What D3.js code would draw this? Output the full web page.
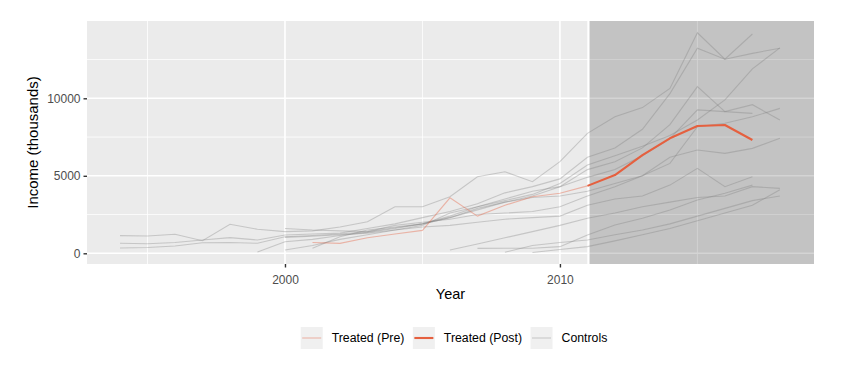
<!DOCTYPE html>
<html>
<head>
<meta charset="utf-8">
<script src="https://cdn.jsdelivr.net/npm/d3@7"></script>
<style>
  body { margin: 0; background: #ffffff; }
  text { font-family: "Liberation Sans", Arial, sans-serif; }
</style>
</head>
<body>
<svg id="chart" width="864" height="367"></svg>
<script>
// years on the x axis
const years = [1994, 1995, 1996, 1997, 1998, 1999, 2000, 2001, 2002, 2003, 2004, 2005, 2006,
  2007, 2008, 2009, 2010, 2011, 2012, 2013, 2014, 2015, 2016, 2017, 2018];

// treated unit (income, thousands)
const treated = [null, null, null, null, null, null, null, 700, 640, 1000, 1250, 1480, 3580,
  2400, 3100, 3650, 3870, 4350, 5050, 6340, 7420, 8210, 8280, 7310, null];

// control units
const ctrl01 = [1140, 1120, 1230, 810, 1870, 1550, 1400, 1450, 1700, 2040, 3000, 3000, 3650,
  4940, 5260, 4620, 5910, 7740, 8810, 9400, 10640, 14230, 12520, 14150, null];
const ctrl02 = [645, 620, 700, 860, 1010, 860, 1180, 1250, 1300, 1600, 1900, 2300, 2700,
  3200, 3900, 4300, 4800, 6200, 6800, 8000, 10300, 13230, 12520, 12900, 13230];
const ctrl03 = [340, 370, 470, 685, 700, 645, 1070, 1150, 1250, 1400, 1650, 1900, 2400,
  3000, 3400, 3800, 4500, 5700, 6300, 6900, 7600, 8600, 9900, 11900, 13250];
const ctrl04 = [null, null, null, null, null, 80, 750, 900, 1150, 1350, 1600, 1900, 2300,
  2800, 3300, 3700, 4300, 5400, 5900, 6800, 8300, 10750, 9140, 9590, 8600];
const ctrl05 = [null, null, null, null, null, null, 210, 500, 900, 1200, 1500, 1800, 2600,
  3000, 3500, 4000, 4300, 4900, 5400, 6300, 7400, 9250, 9140, 9030, null];
const ctrl06 = [null, null, null, null, null, null, null, 320, 1070, 1500, 1700, 1900, 2300,
  2900, 3300, 3600, 3700, 4000, 4500, 5000, 5800, 8170, 8390, 8810, 9350];
const ctrl07 = [null, null, null, null, null, null, 1600, 1500, 1450, 1400, 1800, 2000, 2200,
  2500, 2600, 2700, 3000, 3700, 4300, 5000, 6200, 6660, 6450, 6770, 7420];
const ctrl08 = [null, null, null, null, null, null, 1030, 1100, 1200, 1300, 1500, 1700, 1800,
  2000, 2200, 2300, 2400, 3100, 3500, 3700, 4400, 5480, 4300, 4940, null];
const ctrl09 = [null, null, null, null, null, null, null, null, null, null, null, null, 210,
  600, 1000, 1400, 1800, 2260, 2600, 3000, 3300, 3600, 3700, 4300, 4190];
const ctrl10 = [null, null, null, null, null, null, null, null, null, null, null, null, null,
  320, 330, 330, 430, 1180, 1830, 2260, 2790, 3440, 3870, 4400, null];
const ctrl11 = [null, null, null, null, null, null, null, null, null, null, null, null, null,
  null, 65, 500, 700, 860, 1200, 1500, 1900, 2400, 2900, 3400, 3700];
const ctrl12 = [null, null, null, null, null, null, null, null, null, null, null, null, null,
  null, null, 50, 250, 430, 800, 1200, 1600, 2100, 2600, 3100, 4100];
const controls = [ctrl01, ctrl02, ctrl03, ctrl04, ctrl05, ctrl06, ctrl07, ctrl08, ctrl09,
  ctrl10, ctrl11, ctrl12];

const treatYear = 2011;

// axis ticks
const yTicks = [0, 5000, 10000];
const yMinor = [2500, 7500, 12500];
const xTicks = [2000, 2010];
const xMinor = [1995, 2005, 2015];

const legendLabels = ["Treated (Pre)", "Treated (Post)", "Controls"];

const panel = {left: 87, right: 814, top: 21, bottom: 264};

let svg = d3.select("#chart");

let xScale = d3.scaleLinear()
  .domain([1992.8, 2019.24])
  .range([panel.left, panel.right]);

let yScale = d3.scaleLinear()
  .domain([-690, 14987])
  .range([panel.bottom, panel.top]);

// clip for the panel
svg.append("clipPath")
  .attr("id", "panel-clip")
  .append("rect")
  .attr("x", panel.left)
  .attr("y", panel.top)
  .attr("width", panel.right - panel.left)
  .attr("height", panel.bottom - panel.top);

// panel background
svg.append("rect")
  .attr("x", panel.left)
  .attr("y", panel.top)
  .attr("width", panel.right - panel.left)
  .attr("height", panel.bottom - panel.top)
  .attr("fill", "#ebebeb");

let grid = svg.append("g");

// minor grid
grid.selectAll("line.ymin")
  .data(yMinor)
  .enter()
  .append("line")
  .attr("x1", panel.left).attr("x2", panel.right)
  .attr("y1", d => yScale(d)).attr("y2", d => yScale(d))
  .attr("stroke", "#ffffff")
  .attr("stroke-width", 0.8);

grid.selectAll("line.xmin")
  .data(xMinor)
  .enter()
  .append("line")
  .attr("y1", panel.top).attr("y2", panel.bottom)
  .attr("x1", d => xScale(d)).attr("x2", d => xScale(d))
  .attr("stroke", "#ffffff")
  .attr("stroke-width", 0.8);

// major grid
grid.selectAll("line.ymaj")
  .data(yTicks)
  .enter()
  .append("line")
  .attr("x1", panel.left).attr("x2", panel.right)
  .attr("y1", d => yScale(d)).attr("y2", d => yScale(d))
  .attr("stroke", "#ffffff")
  .attr("stroke-width", 1.6);

grid.selectAll("line.xmaj")
  .data(xTicks)
  .enter()
  .append("line")
  .attr("y1", panel.top).attr("y2", panel.bottom)
  .attr("x1", d => xScale(d)).attr("x2", d => xScale(d))
  .attr("stroke", "#ffffff")
  .attr("stroke-width", 1.6);

// post-treatment shading
svg.append("rect")
  .attr("clip-path", "url(#panel-clip)")
  .attr("x", xScale(treatYear) + 1)
  .attr("y", panel.top - 5)
  .attr("width", panel.right - xScale(treatYear) + 5)
  .attr("height", panel.bottom - panel.top + 10)
  .attr("fill", "#000000")
  .attr("fill-opacity", 0.17)
  .attr("stroke", "#ffffff")
  .attr("stroke-width", 2.2);

let line = d3.line()
  .defined(d => d.v != null)
  .x(d => xScale(d.year))
  .y(d => yScale(d.v));

let toPoints = (vals) => years.map((year, i) => ({year: year, v: vals[i]}));

let plot = svg.append("g").attr("clip-path", "url(#panel-clip)");

// control lines
plot.selectAll("path.control")
  .data(controls)
  .enter()
  .append("path")
  .attr("class", "control")
  .attr("d", d => line(toPoints(d)))
  .attr("fill", "none")
  .attr("stroke", "#7f7f7f")
  .attr("stroke-opacity", 0.34)
  .attr("stroke-width", 1.1);

// treated pre and post
let treatedPts = toPoints(treated);
plot.append("path")
  .attr("d", line(treatedPts.filter(d => d.year <= treatYear)))
  .attr("fill", "none")
  .attr("stroke", "#e5603f")
  .attr("stroke-opacity", 0.4)
  .attr("stroke-width", 1.1);

plot.append("path")
  .attr("d", line(treatedPts.filter(d => d.year >= treatYear)))
  .attr("fill", "none")
  .attr("stroke", "#e5603f")
  .attr("stroke-width", 2.1)
  .attr("stroke-linejoin", "round");

// axes
let yAxis = svg.append("g")
  .attr("transform", "translate(" + panel.left + ",0)")
  .call(d3.axisLeft(yScale).tickValues(yTicks).tickFormat(d3.format("d")).tickSize(3.5).tickPadding(3));

let xAxis = svg.append("g")
  .attr("transform", "translate(0," + panel.bottom + ")")
  .call(d3.axisBottom(xScale).tickValues(xTicks).tickFormat(d3.format("d")).tickSize(3.5).tickPadding(8));

[yAxis, xAxis].forEach(ax => {
  ax.select(".domain").remove();
  ax.selectAll(".tick line").attr("stroke", "#333333").attr("stroke-width", 1.4);
  ax.selectAll(".tick text")
    .attr("fill", "#4d4d4d")
    .attr("font-size", "12px")
    .attr("font-family", "Liberation Sans, Arial, sans-serif");
});

// axis titles
svg.append("text")
  .attr("x", (panel.left + panel.right) / 2)
  .attr("y", 299)
  .attr("text-anchor", "middle")
  .attr("font-size", "14.5px")
  .attr("fill", "#000000")
  .text("Year");

svg.append("text")
  .attr("transform", "translate(38," + (panel.top + panel.bottom) / 2 + ") rotate(-90)")
  .attr("text-anchor", "middle")
  .attr("font-size", "15px")
  .attr("fill", "#000000")
  .text("Income (thousands)");

// legend
const legendStyles = [
  {color: "#e5603f", opacity: 0.4, width: 1.1},
  {color: "#e5603f", opacity: 1, width: 2.1},
  {color: "#7f7f7f", opacity: 0.34, width: 1.1}
];
let keySize = 22, textGap = 9, itemGap = 8.5, legendY = 338;

let legend = svg.append("g");
let items = legend.selectAll("g.item")
  .data(legendLabels)
  .enter()
  .append("g")
  .attr("class", "item");

items.append("rect")
  .attr("width", keySize)
  .attr("height", keySize)
  .attr("y", legendY - keySize / 2)
  .attr("fill", "#f0f0f0");

items.append("line")
  .attr("x1", 1.5).attr("x2", keySize - 1.5)
  .attr("y1", legendY).attr("y2", legendY)
  .attr("stroke", (d, i) => legendStyles[i].color)
  .attr("stroke-opacity", (d, i) => legendStyles[i].opacity)
  .attr("stroke-width", (d, i) => legendStyles[i].width);

items.append("text")
  .attr("x", keySize + textGap)
  .attr("y", legendY)
  .attr("dy", "0.35em")
  .attr("font-size", "12.3px")
  .attr("fill", "#000000")
  .text(d => d);

// lay legend items out in a row, centred
let widths = [];
items.each(function () {
  widths.push(keySize + textGap + d3.select(this).select("text").node().getComputedTextLength());
});
let total = d3.sum(widths) + itemGap * (widths.length - 1);
let cursor = 454 - total / 2;
items.attr("transform", function (d, i) {
  let tx = cursor;
  cursor += widths[i] + itemGap;
  return "translate(" + tx + ",0)";
});
</script>
</body>
</html>
